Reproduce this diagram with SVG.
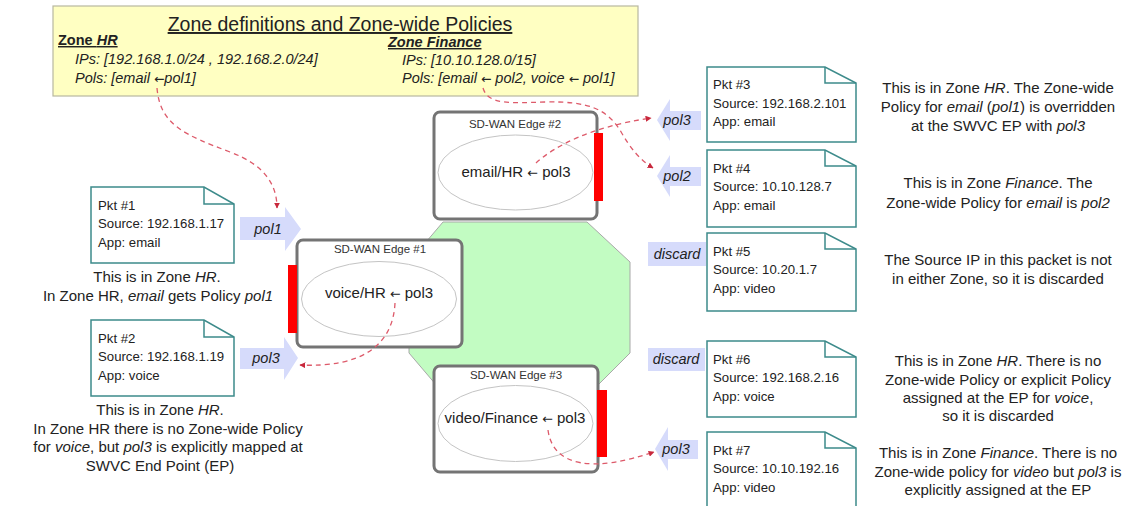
<svg xmlns="http://www.w3.org/2000/svg" width="1145" height="506" viewBox="0 0 1145 506">
<defs>
<style>
text{font-family:"Liberation Sans",Arial,sans-serif;fill:#222}
.it{font-style:italic}
.ar{font-family:"DejaVu Sans",sans-serif;font-style:normal;font-size:0.85em}
.title{font-size:19.5px;text-anchor:middle;text-decoration:underline}
.zh{font-size:14.5px;font-weight:bold;text-decoration:underline}
.zl{font-size:14.5px;font-style:italic}
.pkt{fill:#fff;stroke:#3d8b8b;stroke-width:1.5}
.fold{fill:none;stroke:#3d8b8b;stroke-width:1.5}
.pt{font-size:13.2px}
.cap{font-size:15px;text-anchor:middle}
.edge{fill:#fff;stroke:#747474;stroke-width:3}
.et{font-size:11.5px;text-anchor:middle;fill:#333}
.ell{fill:#fff;stroke:#c4c4c4;stroke-width:1}
.elt{font-size:15px;text-anchor:middle}
.bar{fill:#ff0000}
.arr{fill:#d6dbfb}
.al{font-size:14.5px;font-style:italic;text-anchor:middle}
.dash{fill:none;stroke:#dd5a6a;stroke-width:1.3;stroke-dasharray:5 4}
</style>
<marker id="ah" viewBox="0 0 10 10" refX="9" refY="5" markerWidth="6" markerHeight="6" orient="auto" markerUnits="userSpaceOnUse">
<path d="M0,0 L10,5 L0,10 Z" fill="#c8283c"/>
</marker>
</defs>

<g id="zone-defs">
<rect x="53" y="6" width="585" height="90" fill="#ffffc2" stroke="#b8b8a0" stroke-width="1.2"/>
<text class="title" x="340" y="31">Zone definitions and Zone-wide Policies</text>
<text class="zh" x="58" y="45">Zone <tspan class="it">HR</tspan></text>
<text class="zl" x="75" y="64">IPs: [192.168.1.0/24 , 192.168.2.0/24]</text>
<text class="zl" x="75" y="83">Pols: [email <tspan class="ar">←</tspan>pol1]</text>
<text class="zh it" x="388" y="47">Zone Finance</text>
<text class="zl" x="402" y="65">IPs: [10.10.128.0/15]</text>
<text class="zl" x="402" y="83">Pols: [email <tspan class="ar">←</tspan> pol2, voice <tspan class="ar">←</tspan> pol1]</text>
</g>

<g id="core">
<polygon points="443,222 587,222 630,262 630,353 590,393 443,393 409,353 409,262" fill="#c2fcc2" stroke="#a8a8a8" stroke-width="1"/>
</g>

<g id="edge1">
<rect class="edge" x="297" y="240" width="165" height="107" rx="6"/>
<text class="et" x="380" y="253">SD-WAN Edge #1</text>
<ellipse class="ell" cx="379" cy="299" rx="77.5" ry="37.5"/>
<text class="elt" x="379" y="298">voice/HR <tspan class="ar">←</tspan> pol3</text>
<rect class="bar" x="288" y="265" width="9" height="68"/>
</g>

<g id="edge2">
<rect class="edge" x="434" y="112" width="163" height="107" rx="6"/>
<text class="et" x="515" y="128">SD-WAN Edge #2</text>
<ellipse class="ell" cx="515.5" cy="172.5" rx="77.5" ry="37.5"/>
<text class="elt" x="516" y="177">email/HR <tspan class="ar">←</tspan> pol3</text>
<rect class="bar" x="594" y="133" width="9" height="68"/>
</g>

<g id="edge3">
<rect class="edge" x="434" y="366" width="164" height="106" rx="6"/>
<text class="et" x="516" y="379">SD-WAN Edge #3</text>
<ellipse class="ell" cx="515.5" cy="423.5" rx="77.5" ry="38"/>
<text class="elt" x="515" y="423">video/Finance <tspan class="ar">←</tspan> pol3</text>
<rect class="bar" x="597" y="390" width="10" height="67"/>
</g>

<g id="pkt1">
<path class="pkt" d="M91,187 H204 L234,204 V263 H91 Z"/>
<path class="fold" d="M204,187 V204 H234"/>
<text class="pt" x="98" y="210">Pkt #1</text>
<text class="pt" x="98" y="228">Source: 192.168.1.17</text>
<text class="pt" x="98" y="247">App: email</text>
<text class="cap" x="157" y="282">This is in Zone <tspan class="it">HR</tspan>.</text>
<text class="cap" x="158" y="301">In Zone HR, <tspan class="it">email</tspan> gets Policy <tspan class="it">pol1</tspan></text>
</g>

<g id="pkt2">
<path class="pkt" d="M91,320 H204 L234,337 V396 H91 Z"/>
<path class="fold" d="M204,320 V337 H234"/>
<text class="pt" x="98" y="343">Pkt #2</text>
<text class="pt" x="98" y="361">Source: 192.168.1.19</text>
<text class="pt" x="98" y="380">App: voice</text>
<text class="cap" x="160" y="415">This is in Zone <tspan class="it">HR</tspan>.</text>
<text class="cap" x="168" y="434">In Zone HR there is no Zone-wide Policy</text>
<text class="cap" x="168" y="452">for <tspan class="it">voice</tspan>, but <tspan class="it">pol3</tspan> is explicitly mapped at</text>
<text class="cap" x="160" y="471">SWVC End Point (EP)</text>
</g>

<g id="pkt3">
<path class="pkt" d="M707,67 H825 L856,83 V142 H707 Z"/>
<path class="fold" d="M825,67 V83 H856"/>
<text class="pt" x="713" y="89">Pkt #3</text>
<text class="pt" x="713" y="108">Source: 192.168.2.101</text>
<text class="pt" x="713" y="126">App: email</text>
<text class="cap" x="998" y="93">This is in Zone <tspan class="it">HR</tspan>. The Zone-wide</text>
<text class="cap" x="998" y="112">Policy for <tspan class="it">email</tspan> (<tspan class="it">pol1</tspan>) is overridden</text>
<text class="cap" x="998" y="131">at the SWVC EP with <tspan class="it">pol3</tspan></text>
</g>

<g id="pkt4">
<path class="pkt" d="M707,150 H825 L856,166 V227 H707 Z"/>
<path class="fold" d="M825,150 V166 H856"/>
<text class="pt" x="713" y="173">Pkt #4</text>
<text class="pt" x="713" y="191">Source: 10.10.128.7</text>
<text class="pt" x="713" y="210">App: email</text>
<text class="cap" x="998" y="188">This is in Zone <tspan class="it">Finance</tspan>. The</text>
<text class="cap" x="998" y="208">Zone-wide Policy for <tspan class="it">email</tspan> is <tspan class="it">pol2</tspan></text>
</g>

<g id="pkt5">
<path class="pkt" d="M707,233 H825 L856,249 V311 H707 Z"/>
<path class="fold" d="M825,233 V249 H856"/>
<text class="pt" x="713" y="256">Pkt #5</text>
<text class="pt" x="713" y="274">Source: 10.20.1.7</text>
<text class="pt" x="713" y="293">App: video</text>
<text class="cap" x="998" y="265">The Source IP in this packet is not</text>
<text class="cap" x="998" y="284">in either Zone, so it is discarded</text>
</g>

<g id="pkt6">
<path class="pkt" d="M707,341 H825 L856,357 V417 H707 Z"/>
<path class="fold" d="M825,341 V357 H856"/>
<text class="pt" x="713" y="364">Pkt #6</text>
<text class="pt" x="713" y="382">Source: 192.168.2.16</text>
<text class="pt" x="713" y="401">App: voice</text>
<text class="cap" x="998" y="366">This is in Zone <tspan class="it">HR</tspan>. There is no</text>
<text class="cap" x="998" y="385">Zone-wide Policy or explicit Policy</text>
<text class="cap" x="998" y="403">assigned at the EP for <tspan class="it">voice</tspan>,</text>
<text class="cap" x="998" y="421">so it is discarded</text>
</g>

<g id="pkt7">
<path class="pkt" d="M707,432 H825 L856,448 V512 H707 Z"/>
<path class="fold" d="M825,432 V448 H856"/>
<text class="pt" x="713" y="455">Pkt #7</text>
<text class="pt" x="713" y="473">Source: 10.10.192.16</text>
<text class="pt" x="713" y="492">App: video</text>
<text class="cap" x="998" y="458">This is in Zone <tspan class="it">Finance</tspan>. There is no</text>
<text class="cap" x="998" y="477">Zone-wide policy for <tspan class="it">video</tspan> but <tspan class="it">pol3</tspan> is</text>
<text class="cap" x="998" y="495">explicitly assigned at the EP</text>
</g>

<g id="policy-arrows">
<polygon class="arr" points="240,217 285,217 285,207 301,229 285,251 285,240 240,240"/>
<text class="al" x="268" y="234">pol1</text>
<polygon class="arr" points="240,348 284,348 284,337 298,358 284,380 284,369 240,369"/>
<text class="al" x="266" y="363">pol3</text>
<polygon class="arr" points="657,120 670,99 670,111 701,111 701,130 670,130 670,141"/>
<text class="al" x="677" y="125">pol3</text>
<polygon class="arr" points="657,176 670,155 670,167 701,167 701,186 670,186 670,197"/>
<text class="al" x="677" y="181">pol2</text>
<rect class="arr" x="648" y="242" width="58" height="24"/>
<text class="al" x="677" y="259">discard</text>
<rect class="arr" x="648" y="348" width="57" height="23"/>
<text class="al" x="676" y="364">discard</text>
<polygon class="arr" points="655,449 668,427 668,440 698,440 698,459 668,459 668,471"/>
<text class="al" x="676" y="454">pol3</text>
</g>

<g id="connectors">
<path class="dash" d="M157,88 C160,125 185,135 230,152 C265,165 277,185 277,208" marker-end="url(#ah)"/>
<path class="dash" d="M483,88 C488,105 510,103 545,102 C590,101 607,110 620,130 C630,148 640,160 653,168" marker-end="url(#ah)"/>
<path class="dash" d="M536,163 C555,146 590,127 651,118" marker-end="url(#ah)"/>
<path class="dash" d="M395,303 C393,345 362,368 300,365" marker-end="url(#ah)"/>
<path class="dash" d="M548,430 C553,468 595,472 654,452" marker-end="url(#ah)"/>
</g>
</svg>
